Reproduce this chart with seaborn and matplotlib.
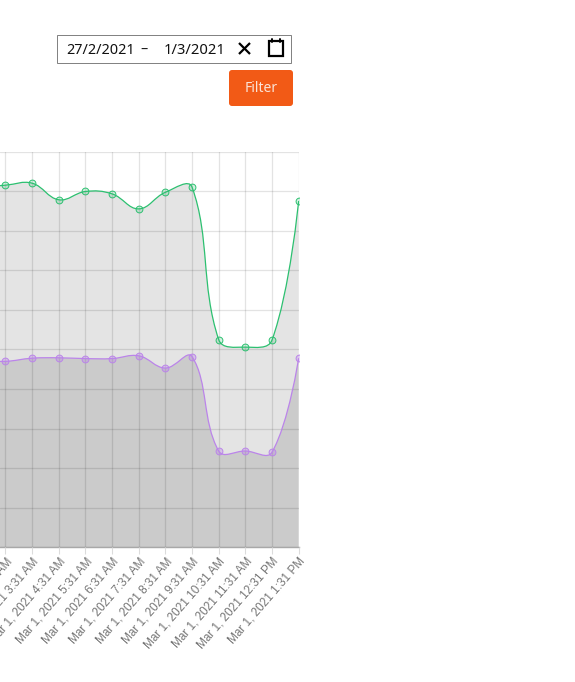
import numpy as np
import pandas as pd
import matplotlib
matplotlib.use("Agg")
import matplotlib.pyplot as plt
import seaborn as sns
from matplotlib.patches import FancyBboxPatch, PathPatch, Rectangle
from matplotlib.path import Path

# hourly labels, the first two are cut off by the left edge of the picture
hours = ['1:31 AM', '2:31 AM', '3:31 AM', '4:31 AM', '5:31 AM', '6:31 AM', '7:31 AM',
         '8:31 AM', '9:31 AM', '10:31 AM', '11:31 AM', '12:31 PM', '1:31 PM']
labels = ['Mar 1, 2021 ' + h for h in hours]

# values (axis has no visible numbers, 0-100 scale assumed)
green_vals = [91.0, 91.6, 92.1, 87.9, 90.0, 89.4, 85.6, 89.8, 91.1, 52.5, 50.6, 52.4, 87.6]
purple_vals = [47.2, 47.0, 47.8, 47.9, 47.7, 47.7, 48.4, 45.3, 48.2, 24.3, 24.3, 24.0, 47.8]

positions = np.arange(len(labels)) - 1


def smooth_path(xs, ys, base=None, tension=0.4):
    # same bezier control points a chart.js line with tension uses
    verts = [(xs[0], ys[0])]
    codes = [Path.MOVETO]
    pts = np.column_stack([xs, ys])
    prev_ctrl = pts[0]
    for i in range(1, len(pts)):
        if i < len(pts) - 1:
            d01 = np.hypot(*(pts[i] * SCALE - pts[i - 1] * SCALE))
            d12 = np.hypot(*(pts[i + 1] * SCALE - pts[i] * SCALE))
            s = d01 + d12
            c1 = pts[i] - tension * d01 / s * (pts[i + 1] - pts[i - 1])
            c2 = pts[i] + tension * d12 / s * (pts[i + 1] - pts[i - 1])
        else:
            c1 = c2 = pts[i]
        verts += [tuple(prev_ctrl), tuple(c1), tuple(pts[i])]
        codes += [Path.CURVE4] * 3
        prev_ctrl = c2
    if base is not None:
        verts += [(xs[-1], base), (xs[0], base), (xs[0], ys[0])]
        codes += [Path.LINETO, Path.LINETO, Path.LINETO]
    return Path(verts, codes)


SCALE = np.array([26.65, 3.95])  # px per data unit, for the curve tension

sns.set_theme(style="white")
W, H = 575, 682
fig = plt.figure(figsize=(W / 100, H / 100), dpi=100, facecolor='white')
ax = fig.add_axes([0, 1 - 547 / H, 299 / W, 395 / H])
ax.set_facecolor('white')

for vals, line_col, dot_fill in [(green_vals, '#2cc070', '#2cc07033'),
                                 (purple_vals, '#bb84ea', '#bb84ea55')]:
    ax.add_patch(PathPatch(smooth_path(positions, vals, base=0), fc='#0000001b', ec='none', zorder=1))
    ax.add_patch(PathPatch(smooth_path(positions, vals), fc='none', ec=line_col, lw=0.9, zorder=3))
    df = pd.DataFrame({'pos': positions, 'val': vals})
    sns.scatterplot(data=df, x='pos', y='val', ax=ax, s=24, color=dot_fill, edgecolor=line_col,
                    linewidth=0.7, zorder=4, clip_on=True, legend=False)

ax.set_xlabel('')
ax.set_ylabel('')
ax.set_yticks(np.arange(0, 101, 10))
ax.set_yticklabels([])
ax.set_xticks(positions)
ax.set_xticklabels(labels, rotation=49, ha='right', rotation_mode='anchor',
                   family='Liberation Sans', fontsize=8.5, color='#757575')
# limits last, set_xticks widens them
ax.set_xlim(-5.5 / 26.65, (299 - 5.5) / 26.65)
ax.set_ylim(0, 100)
ax.tick_params(axis='x', length=5, width=0.8, color='#dcdcdc', pad=1, bottom=True)
ax.tick_params(axis='y', length=0)
ax.grid(True, color='black', alpha=0.11, lw=0.9, zorder=2)
ax.set_axisbelow(False)
for side in ['left', 'top', 'right']:
    ax.spines[side].set_visible(False)
ax.spines['bottom'].set_color('#a8a8a8')
ax.spines['bottom'].set_linewidth(1.0)

# date picker and button, drawn in pixel coordinates
ui = fig.add_axes([0, 0, 1, 1], facecolor='none')
ui.set_xlim(0, W)
ui.set_ylim(H, 0)
ui.axis('off')
ui.add_patch(Rectangle((56.5, 34.5), 234.5, 28, fc='white', ec='#808080', lw=0.7))
ui.text(66, 50, '27/2/2021', family='Noto Sans', fontsize=10.4, color='#111111', va='center')
ui.text(140, 50, '–', family='Noto Sans', fontsize=10.4, color='#111111', va='center')
ui.text(164, 50, '1/3/2021', family='Noto Sans', fontsize=10.6, color='#111111', va='center')
ui.plot([239, 250], [43, 54], color='black', lw=1.6, solid_capstyle='butt')
ui.plot([250, 239], [43, 54], color='black', lw=1.6, solid_capstyle='butt')
ui.add_patch(Rectangle((268.5, 41), 14.5, 15, fc='white', ec='black', lw=1.6))
ui.plot([272, 272], [39, 42], color='black', lw=1.4)
ui.plot([280, 280], [39, 42], color='black', lw=1.4)
ui.add_patch(FancyBboxPatch((231, 72), 60, 32, boxstyle='round,pad=2,rounding_size=3',
                            fc='#f25a16', ec='none'))
ui.text(261, 89, 'Filter', family='Noto Sans', fontsize=10, color='#fbe3d6', ha='center', va='center')

fig.savefig('out.png', dpi=100, facecolor='white')
